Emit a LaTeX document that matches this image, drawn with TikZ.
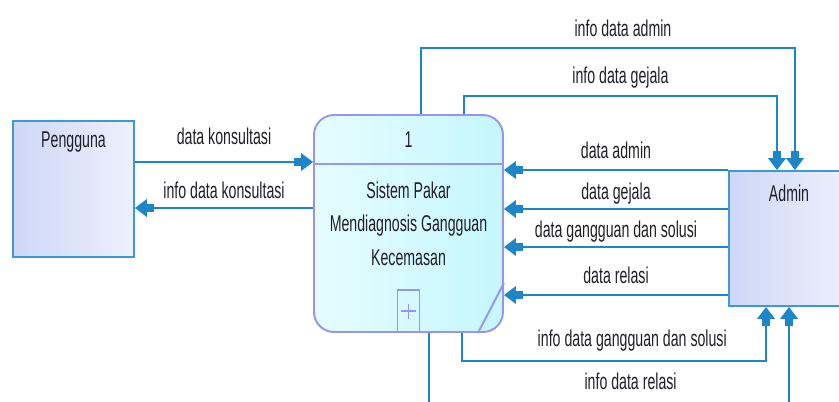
\documentclass[tikz,border=0pt]{standalone}
\usepackage{fontspec}
\usepackage{xcolor}
\usepackage{tikz}
\usetikzlibrary{positioning,shapes,arrows.meta}
\newfontfamily\dfdfont[FakeStretch=0.62]{Liberation Sans}
\definecolor{flowblue}{RGB}{28,134,200}
\definecolor{entityline}{RGB}{60,154,214}
\definecolor{entitytop}{RGB}{206,215,246}
\definecolor{entitybot}{RGB}{238,240,253}
\definecolor{procline}{RGB}{150,150,238}
\definecolor{proctop}{RGB}{230,252,255}
\definecolor{procbot}{RGB}{196,247,253}
\definecolor{textdark}{RGB}{34,30,40}

\begin{document}
\begin{tikzpicture}[
  entity/.style={draw=entityline, line width=1.1pt, left color=entitytop, right color=entitybot, minimum width=2.42cm, minimum height=2.72cm},
  flow/.style={draw=flowblue, line width=1.1pt, -{Rectangle[length=4pt,width=5pt,fill=flowblue]Triangle[length=6.8pt,width=10pt,fill=flowblue]}},
  lbl/.style={font=\dfdfont\fontsize{13}{15}\selectfont, text=textdark, text height=0.75em, text depth=0.25em}
]
\useasboundingbox (0,0) rectangle (16.78,-8.02);
\clip (0,0) rectangle (16.78,-8.02);

\node[entity, label={[lbl, anchor=north, yshift=-0.16cm]north:Pengguna}] (pengguna) at (1.47,-3.78) {};
\node[entity, minimum width=2.4cm, minimum height=2.7cm, label={[lbl, anchor=north, yshift=-0.24cm]north:Admin}] (admin) at (15.78,-4.77) {};

\node[draw=procline, line width=1.1pt, rounded corners=0.4cm, left color=proctop, right color=procbot, minimum width=3.78cm, minimum height=4.34cm, align=center, text=textdark, font=\dfdfont\fontsize{13}{19}\selectfont] (proc) at (8.17,-4.47) {Sistem Pakar\\Mendiagnosis Gangguan\\Kecemasan};
\draw[procline, line width=1.1pt] ([yshift=-1cm]proc.north west) -- ([yshift=-1cm]proc.north east);
\node[lbl] (procid) at ([yshift=-0.58cm]proc.north) {1};
\node[draw=procline, line width=1.1pt, minimum width=0.44cm, minimum height=0.84cm, anchor=south] (plusbox) at (proc.south) {};
\draw[procline, line width=0.8pt] ([xshift=-0.15cm]plusbox.center) -- ([xshift=0.15cm]plusbox.center) ([yshift=-0.15cm]plusbox.center) -- ([yshift=0.15cm]plusbox.center);
\draw[procline, line width=1.1pt] ([xshift=-0.52cm]proc.south east) -- ([yshift=1cm]proc.south east);

% pins on the process and admin boxes
\coordinate (outadmin) at ([xshift=0.25cm]proc.north);
\coordinate (outgejala) at ([xshift=1.11cm]proc.north);
\coordinate (outgangguan) at ([xshift=1.07cm]proc.south);
\coordinate (outrelasi) at ([xshift=0.41cm]proc.south);
\coordinate (pinadmin) at ([xshift=0.12cm]admin.north);
\coordinate (pingejala) at ([xshift=-0.24cm]admin.north);
\coordinate (pingangguan) at ([xshift=-0.46cm]admin.south);

\draw[flow] (pengguna.east |- 0,-3.24) -- (proc.west |- 0,-3.24) node[lbl, midway, above=0.12cm] {data konsultasi};
\draw[flow] (proc.west |- 0,-4.16) -- (pengguna.east |- 0,-4.16) node[lbl, midway, above=-0.04cm] {info data konsultasi};

\draw[flow] (outadmin) |- (pinadmin |- 0,-0.96) node[lbl, pos=0.77, above] {info data admin} -- (pinadmin);
\draw[flow] (outgejala) |- (pingejala |- 0,-1.92) node[lbl, pos=0.75, above=0.02cm] {info data gejala} -- (pingejala);

\draw[flow] (admin.north west) -- (proc.east |- admin.north west) node[lbl, midway, above] {data admin};
\draw[flow] (admin.west |- 0,-4.18) -- (proc.east |- 0,-4.18) node[lbl, midway, above=-0.04cm] {data gejala};
\draw[flow] (admin.west |- 0,-4.94) -- (proc.east |- 0,-4.94) node[lbl, midway, above=-0.04cm] {data gangguan dan solusi};
\draw[flow] (admin.west |- 0,-5.9) -- (proc.east |- 0,-5.9) node[lbl, midway, above] {data relasi};

\draw[flow] (outgangguan) |- (pingangguan |- 0,-7.22) node[lbl, pos=0.78, above=0.06cm] {info data gangguan dan solusi} -- (pingangguan);
\draw[flow] (outrelasi) |- (admin.south |- 0,-8.12) node[lbl, pos=0.78, above=0.1cm] {info data relasi} -- (admin.south);
\end{tikzpicture}
\end{document}
